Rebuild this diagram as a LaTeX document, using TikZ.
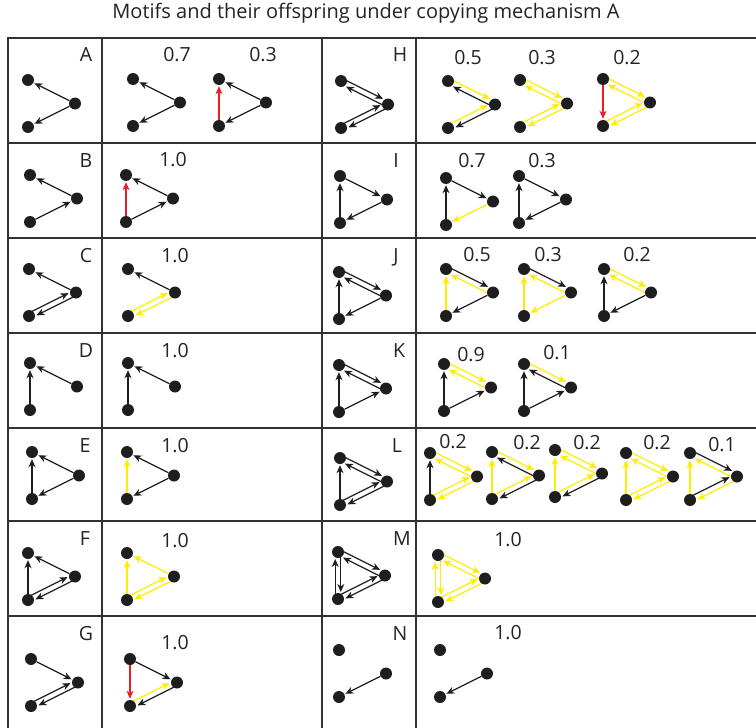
\documentclass[tikz,border=0pt]{standalone}
\usepackage{fontspec}
\setmainfont{Open Sans}
\usetikzlibrary{calc,arrows.meta}
\pgfdeclarelayer{bg}
\pgfsetlayers{bg,main}
\definecolor{bk}{RGB}{30,30,30}
\definecolor{yl}{RGB}{255,236,0}
\definecolor{rd}{RGB}{232,30,40}
\definecolor{gridc}{RGB}{50,50,50}
\definecolor{txt}{RGB}{35,35,35}
\tikzset{
  dot/.style={circle,fill=bk,inner sep=0pt,minimum size=12pt},
  edge/.style={draw,line width=1.2pt,-{Stealth[length=8pt,width=7pt,inset=2.5pt]}},
  gridline/.style={draw=gridc,line width=2pt},
  lbl/.style={inner sep=0pt,anchor=base,text=txt,font=\fontsize{19.5}{21}\selectfont},
  ttl/.style={inner sep=0pt,anchor=base,text=txt,font=\fontsize{20}{22}\selectfont}
}
\newcommand\mot[3]{%
  \node[dot] (#1t) at (#2,#3) {};
  \node[dot] (#1r) at (#2+47,#3+23.5) {};
  \node[dot] (#1b) at (#2,#3+47) {};}
\newcommand\edS[4]{\begin{pgfonlayer}{bg}\draw[edge,#1,shorten >=1pt] (#2#3) -- (#2#4);\end{pgfonlayer}}
\newcommand\edD[4]{\begin{pgfonlayer}{bg}\draw[edge,#1,shorten <=4pt,shorten >=7pt] ($(#2#3)!2.8pt!90:(#2#4)$) -- ($(#2#4)!2.8pt!-90:(#2#3)$);\end{pgfonlayer}}
\begin{document}
\begin{tikzpicture}[x=1pt,y=-1pt]
\useasboundingbox (0,0) rectangle (756,728);
% title
\node[ttl] (title) at (366,18.5) {Motifs and their offspring under copying mechanism A};
% grid
\foreach \yy in {37.5,143,238,333,428,521,616} \draw[gridline] (7.5,\yy) -- (757,\yy);
\foreach \xx in {7.5,102,321.5,416} \draw[gridline] (\xx,36.5) -- (\xx,729);
% letters
\node[lbl] (lA) at (86,61.5) {A};
\node[lbl] (lB) at (86,167) {B};
\node[lbl] (lC) at (86,262) {C};
\node[lbl] (lD) at (86,357) {D};
\node[lbl] (lE) at (85,452) {E};
\node[lbl] (lF) at (85,545) {F};
\node[lbl] (lG) at (86,640) {G};
\node[lbl] (lH) at (400,61.5) {H};
\node[lbl] (lI) at (396,167) {I};
\node[lbl] (lJ) at (396,262) {J};
\node[lbl] (lK) at (399,357) {K};
\node[lbl] (lL) at (397,452) {L};
\node[lbl] (lM) at (402,545) {M};
\node[lbl] (lN) at (400,640) {N};
% probabilities
\node[lbl] (pA1) at (177,61.6) {0.7};
\node[lbl] (pA2) at (263,61.6) {0.3};
\node[lbl] (pB1) at (173,166.6) {1.0};
\node[lbl] (pC1) at (175,262.6) {1.0};
\node[lbl] (pD1) at (175,357.6) {1.0};
\node[lbl] (pE1) at (175,452.6) {1.0};
\node[lbl] (pF1) at (175,547.6) {1.0};
\node[lbl] (pG1) at (175,649.6) {1.0};
\node[lbl] (pH1) at (468,64.6) {0.5};
\node[lbl] (pH2) at (542,64.6) {0.3};
\node[lbl] (pH3) at (627,64.6) {0.2};
\node[lbl] (pI1) at (472,167.6) {0.7};
\node[lbl] (pI2) at (542,167.6) {0.3};
\node[lbl] (pJ1) at (477,261.6) {0.5};
\node[lbl] (pJ2) at (548,261.6) {0.3};
\node[lbl] (pJ3) at (637,261.6) {0.2};
\node[lbl] (pK1) at (471,361.6) {0.9};
\node[lbl] (pK2) at (557,359.6) {0.1};
\node[lbl] (pL1) at (453,448.6) {0.2};
\node[lbl] (pL2) at (527,449.6) {0.2};
\node[lbl] (pL3) at (587,449.6) {0.2};
\node[lbl] (pL4) at (657,449.6) {0.2};
\node[lbl] (pL5) at (722,451.6) {0.1};
\node[lbl] (pM1) at (508,546.6) {1.0};
\node[lbl] (pN1) at (508,639.6) {1.0};
% ---------- row A
\mot{A0}{28}{80}  \edS{bk}{A0}{r}{t} \edS{bk}{A0}{r}{b}
\mot{A1}{133}{79} \edS{bk}{A1}{r}{t} \edS{bk}{A1}{r}{b}
\mot{A2}{219}{79} \edS{bk}{A2}{r}{t} \edS{bk}{A2}{r}{b} \edS{rd}{A2}{b}{t}
% ---------- row B
\mot{B0}{30}{175}  \edS{bk}{B0}{r}{t} \edS{bk}{B0}{b}{r}
\mot{B1}{126}{175} \edS{bk}{B1}{r}{t} \edS{bk}{B1}{b}{r} \edS{rd}{B1}{b}{t}
% ---------- row C
\mot{C0}{29}{269}  \edS{bk}{C0}{r}{t} \edD{bk}{C0}{r}{b} \edD{bk}{C0}{b}{r}
\mot{C1}{128}{269} \edS{bk}{C1}{r}{t} \edD{yl}{C1}{r}{b} \edD{yl}{C1}{b}{r}
% ---------- row D
\mot{D0}{30}{363}  \edS{bk}{D0}{r}{t} \edS{bk}{D0}{b}{t}
\mot{D1}{128}{363} \edS{bk}{D1}{r}{t} \edS{bk}{D1}{b}{t}
% ---------- row E
\mot{E0}{32}{452}  \edS{bk}{E0}{r}{t} \edS{bk}{E0}{r}{b} \edS{bk}{E0}{b}{t}
\mot{E1}{127}{452} \edS{bk}{E1}{r}{t} \edS{bk}{E1}{r}{b} \edS{yl}{E1}{b}{t}
% ---------- row F
\mot{F0}{28}{553}  \edS{bk}{F0}{r}{t} \edS{bk}{F0}{b}{t} \edD{bk}{F0}{r}{b} \edD{bk}{F0}{b}{r}
\mot{F1}{127}{553} \edS{yl}{F1}{r}{t} \edS{yl}{F1}{b}{t} \edD{yl}{F1}{r}{b} \edD{yl}{F1}{b}{r}
% ---------- row G
\mot{G0}{31}{659}  \edS{bk}{G0}{t}{r} \edD{bk}{G0}{r}{b} \edD{bk}{G0}{b}{r}
\mot{G1}{130}{659} \edS{bk}{G1}{t}{r} \edS{rd}{G1}{t}{b} \edD{yl}{G1}{b}{r} \edD{bk}{G1}{r}{b}
% ---------- row H
\mot{H0}{341}{81} \edD{bk}{H0}{t}{r} \edD{bk}{H0}{r}{t} \edD{bk}{H0}{r}{b} \edD{bk}{H0}{b}{r}
\mot{H1}{448}{81} \edD{yl}{H1}{t}{r} \edD{bk}{H1}{r}{t} \edD{yl}{H1}{b}{r} \edD{bk}{H1}{r}{b}
\mot{H2}{520}{80} \edD{yl}{H2}{t}{r} \edD{yl}{H2}{r}{t} \edD{yl}{H2}{r}{b} \edD{yl}{H2}{b}{r}
\mot{H3}{603}{79} \edD{yl}{H3}{t}{r} \edD{yl}{H3}{r}{t} \edD{yl}{H3}{r}{b} \edD{yl}{H3}{b}{r} \edS{rd}{H3}{t}{b}
% ---------- row I
\mot{I0}{340}{176} \edS{bk}{I0}{t}{r} \edS{bk}{I0}{r}{b} \edS{bk}{I0}{b}{t}
\mot{I1}{446}{178} \edS{bk}{I1}{t}{r} \edS{yl}{I1}{r}{b} \edS{bk}{I1}{b}{t}
\mot{I2}{519}{176} \edS{bk}{I2}{t}{r} \edS{bk}{I2}{r}{b} \edS{bk}{I2}{b}{t}
% ---------- row J
\mot{J0}{339}{272} \edD{bk}{J0}{t}{r} \edD{bk}{J0}{r}{t} \edS{bk}{J0}{r}{b} \edS{bk}{J0}{b}{t}
\mot{J1}{446}{269} \edD{bk}{J1}{t}{r} \edD{yl}{J1}{r}{t} \edS{bk}{J1}{r}{b} \edS{yl}{J1}{b}{t}
\mot{J2}{524}{269} \edD{bk}{J2}{t}{r} \edD{yl}{J2}{r}{t} \edS{yl}{J2}{r}{b} \edS{yl}{J2}{b}{t}
\mot{J3}{604}{269} \edD{yl}{J3}{t}{r} \edD{yl}{J3}{r}{t} \edS{bk}{J3}{r}{b} \edS{bk}{J3}{b}{t}
% ---------- row K
\mot{K0}{339}{365} \edD{bk}{K0}{t}{r} \edD{bk}{K0}{r}{t} \edS{bk}{K0}{b}{r} \edS{bk}{K0}{b}{t}
\mot{K1}{444}{364} \edD{yl}{K1}{t}{r} \edD{yl}{K1}{r}{t} \edS{bk}{K1}{b}{r} \edS{bk}{K1}{b}{t}
\mot{K2}{524}{364} \edD{yl}{K2}{t}{r} \edD{bk}{K2}{r}{t} \edS{bk}{K2}{b}{r} \edS{bk}{K2}{b}{t}
% ---------- row L
\mot{L0}{340}{458} \edD{bk}{L0}{t}{r} \edD{bk}{L0}{r}{t} \edD{bk}{L0}{r}{b} \edD{bk}{L0}{b}{r} \edS{bk}{L0}{b}{t}
\mot{L1}{430}{453} \edD{yl}{L1}{t}{r} \edD{yl}{L1}{r}{t} \edD{yl}{L1}{r}{b} \edD{yl}{L1}{b}{r} \edS{bk}{L1}{b}{t}
\mot{L2}{492}{452} \edD{yl}{L2}{t}{r} \edD{bk}{L2}{r}{t} \edD{bk}{L2}{r}{b} \edD{yl}{L2}{b}{r} \edS{yl}{L2}{b}{t}
\mot{L3}{555}{450} \edD{yl}{L3}{t}{r} \edD{yl}{L3}{r}{t} \edD{bk}{L3}{r}{b} \edD{yl}{L3}{b}{r} \edS{yl}{L3}{b}{t}
\mot{L4}{626}{453} \edD{yl}{L4}{t}{r} \edD{yl}{L4}{r}{t} \edD{yl}{L4}{r}{b} \edD{yl}{L4}{b}{r} \edS{yl}{L4}{b}{t}
\mot{L5}{690}{453} \edD{bk}{L5}{t}{r} \edD{yl}{L5}{r}{t} \edD{yl}{L5}{r}{b} \edD{bk}{L5}{b}{r} \edS{yl}{L5}{b}{t}
% ---------- row M
\mot{M0}{338}{552} \edD{bk}{M0}{t}{r} \edD{bk}{M0}{r}{t} \edD{bk}{M0}{r}{b} \edD{bk}{M0}{b}{r} \edD{bk}{M0}{t}{b} \edD{bk}{M0}{b}{t}
\mot{M1}{438}{555} \edD{yl}{M1}{t}{r} \edD{yl}{M1}{r}{t} \edD{yl}{M1}{r}{b} \edD{yl}{M1}{b}{r} \edD{yl}{M1}{t}{b} \edD{yl}{M1}{b}{t}
% ---------- row N
\mot{N0}{339}{650} \edS{bk}{N0}{r}{b}
\mot{N1}{440}{650} \edS{bk}{N1}{r}{b}
\end{tikzpicture}
\end{document}
